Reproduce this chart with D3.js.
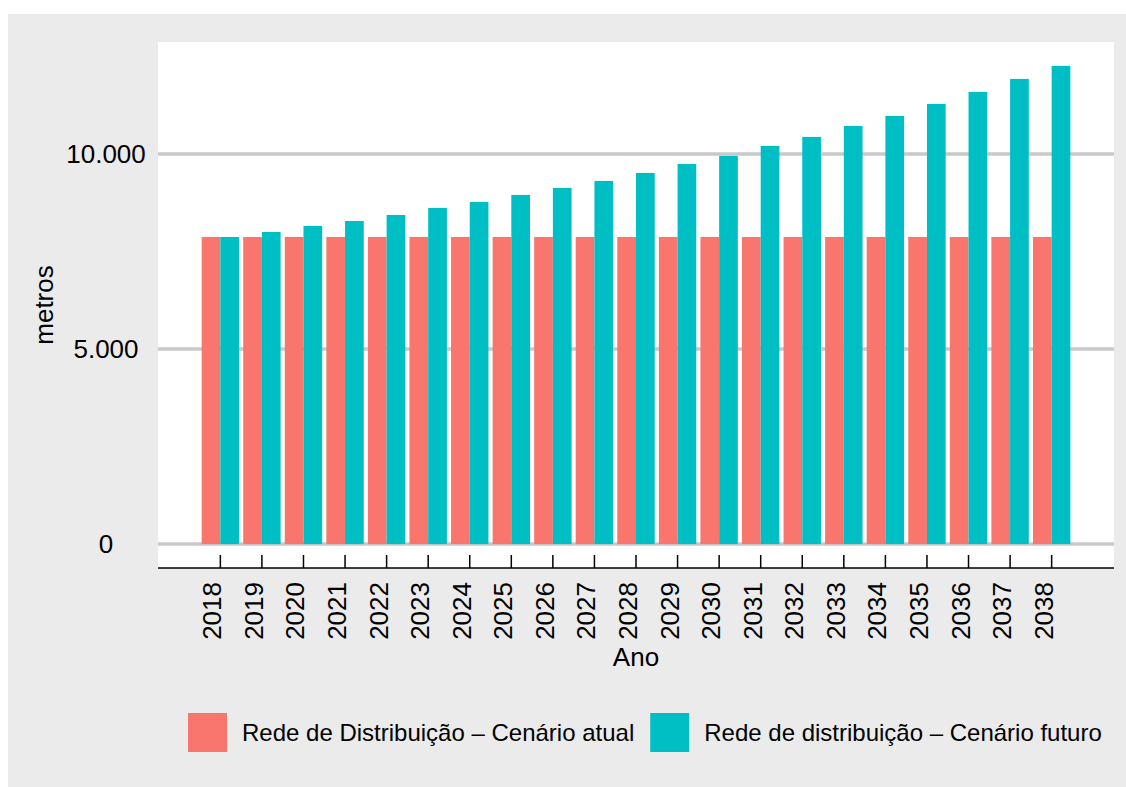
<!DOCTYPE html>
<html>
<head>
<meta charset="utf-8">
<script src="https://cdn.jsdelivr.net/npm/d3@7"></script>
<style>
  body { margin: 0; background: #ffffff; }
  svg { display: block; font-family: "Liberation Sans", Arial, sans-serif; }
</style>
</head>
<body>
<svg id="chart" width="1126" height="787"></svg>
<script>
// ---------------------------------------------
// Data
// ---------------------------------------------
let years = ['2018', '2019', '2020', '2021', '2022', '2023', '2024', '2025', '2026', '2027',
  '2028', '2029', '2030', '2031', '2032', '2033', '2034', '2035', '2036', '2037', '2038'];

// Rede de Distribuição - Cenário atual (constant)
let atual = [7872, 7872, 7872, 7872, 7872, 7872, 7872, 7872, 7872, 7872,
  7872, 7872, 7872, 7872, 7872, 7872, 7872, 7872, 7872, 7872, 7872];

// Rede de distribuição - Cenário futuro
let futuro = [7872, 8000, 8154, 8282, 8436, 8615, 8769, 8949, 9128, 9308,
  9513, 9744, 9949, 10205, 10436, 10718, 10974, 11282, 11590, 11923, 12256];

let seriesNames = ['Rede de Distribuição \u2013 Cenário atual', 'Rede de distribuição \u2013 Cenário futuro'];
let seriesColors = ['#F8766D', '#00BFC4'];
let yTicks = [0, 5000, 10000];
let yTickLabels = ['0', '5.000', '10.000'];

// ---------------------------------------------
// Layout
// ---------------------------------------------
let svg = d3.select('#chart');
let panel = {left: 158, right: 1114, top: 42, bottom: 568};

svg.append('rect')
    .attr('x', 8).attr('y', 14)
    .attr('width', 1126 - 8).attr('height', 787 - 14)
    .attr('fill', '#EBEBEB');

svg.append('rect')
    .attr('x', panel.left).attr('y', panel.top)
    .attr('width', panel.right - panel.left)
    .attr('height', panel.bottom - panel.top)
    .attr('fill', '#ffffff');

// Scales (ggplot-like 5% expansion on y)
let yMax = d3.max(futuro);
let scaleY = d3.scaleLinear()
    .domain([-0.05 * yMax, yMax * 1.05])
    .range([panel.bottom, panel.top]);

let scaleX = d3.scalePoint()
    .domain(years)
    .range([panel.left, panel.right])
    .padding(1.5);

let step = scaleX.step();
let dodge = d3.scaleBand()
    .domain([0, 1])
    .range([-0.45 * step, 0.45 * step])
    .padding(0);

// Gridlines
svg.selectAll('line.grid').data(yTicks)
    .join('line')
    .attr('class', 'grid')
    .attr('x1', panel.left).attr('x2', panel.right)
    .attr('y1', d => scaleY(d)).attr('y2', d => scaleY(d))
    .attr('stroke', '#C9C9C9')
    .attr('stroke-width', 3.5);

// Bars
let barData = [];
years.forEach((year, i) => {
  barData.push({year: year, s: 0, value: atual[i]});
  barData.push({year: year, s: 1, value: futuro[i]});
});

svg.selectAll('rect.bar').data(barData)
    .join('rect')
    .attr('class', 'bar')
    .attr('x', d => scaleX(d.year) + dodge(d.s))
    .attr('width', dodge.bandwidth())
    .attr('y', d => scaleY(d.value))
    .attr('height', d => scaleY(0) - scaleY(d.value))
    .attr('fill', d => seriesColors[d.s]);

// Y tick labels
svg.selectAll('text.ytick').data(yTicks)
    .join('text')
    .attr('class', 'ytick')
    .attr('x', 106)
    .attr('y', d => scaleY(d))
    .attr('dy', '0.36em')
    .attr('text-anchor', 'middle')
    .attr('font-size', 26)
    .attr('fill', '#000')
    .text((d, i) => yTickLabels[i]);

// X axis line + ticks (ticks point up into the panel)
svg.append('line')
    .attr('x1', panel.left).attr('x2', panel.right)
    .attr('y1', panel.bottom).attr('y2', panel.bottom)
    .attr('stroke', '#000').attr('stroke-width', 1.5);

svg.selectAll('line.xtick').data(years)
    .join('line')
    .attr('class', 'xtick')
    .attr('x1', d => scaleX(d)).attr('x2', d => scaleX(d))
    .attr('y1', panel.bottom - 13).attr('y2', panel.bottom)
    .attr('stroke', '#000').attr('stroke-width', 1.5);

svg.selectAll('text.xtick').data(years)
    .join('text')
    .attr('class', 'xtick')
    .attr('transform', d => 'translate(' + (scaleX(d) + 1) + ',' + 582 + ') rotate(-90)')
    .attr('text-anchor', 'end')
    .attr('font-size', 26)
    .attr('fill', '#000')
    .text(d => d);

// Axis titles
svg.append('text')
    .attr('x', (panel.left + panel.right) / 2)
    .attr('y', 666)
    .attr('text-anchor', 'middle')
    .attr('font-size', 26)
    .text('Ano');

svg.append('text')
    .attr('transform', 'translate(53,' + (panel.top + panel.bottom) / 2 + ') rotate(-90)')
    .attr('text-anchor', 'middle')
    .attr('font-size', 26)
    .text('metros');

// Legend
let legend = svg.append('g');
let lx = 188;
seriesNames.forEach((name, i) => {
  legend.append('rect')
      .attr('x', lx).attr('y', 713)
      .attr('width', 39).attr('height', 39)
      .attr('fill', seriesColors[i]);
  let t = legend.append('text')
      .attr('x', lx + 54)
      .attr('y', 732.5)
      .attr('dy', '0.36em')
      .attr('font-size', 24)
      .attr('fill', '#000')
      .text(name);
  lx += 54 + t.node().getComputedTextLength() + 16;
});
</script>
</body>
</html>
